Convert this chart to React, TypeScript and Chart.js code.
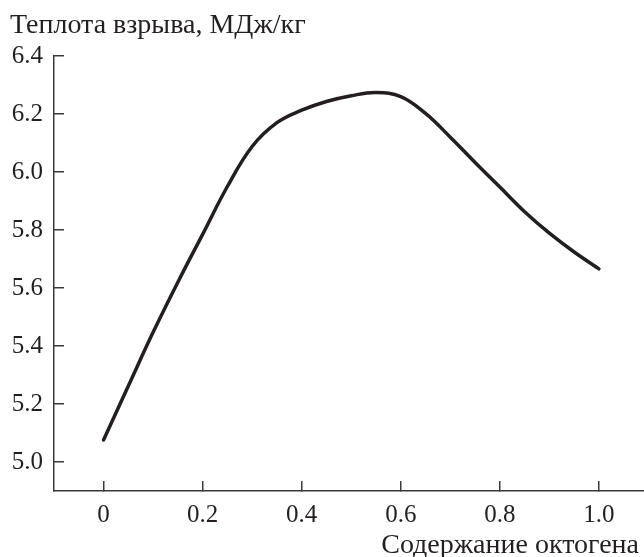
import React, { useEffect, useRef } from "react";
import { Chart, registerables } from "chart.js";

Chart.register(...registerables);

const xValues = [0, 0.05, 0.1, 0.15, 0.2, 0.25, 0.3, 0.35, 0.4, 0.45, 0.5, 0.55, 0.6, 0.65, 0.7, 0.75, 0.8, 0.85, 0.9, 0.95, 1.0];
const yValues = [5.076, 5.262, 5.447, 5.62, 5.785, 5.95, 6.088, 6.17, 6.213, 6.243, 6.263, 6.274, 6.26, 6.202, 6.12, 6.033, 5.948, 5.863, 5.789, 5.724, 5.666];
const xTicks = [0, 0.2, 0.4, 0.6, 0.8, 1.0];
const yTicks = [5.0, 5.2, 5.4, 5.6, 5.8, 6.0, 6.2, 6.4];
const yTitle = "Теплота взрыва, МДж/кг";
const xTitle = "Содержание октогена";

const FONT = "'Liberation Serif', 'DejaVu Serif', serif";
const INK = "#231f20";

export default function App() {
  const ref = useRef<HTMLCanvasElement | null>(null);
  useEffect(() => {
    if (!ref.current) return;
    const titles = {
      id: "titles",
      afterDraw(chart: any) {
        const ctx = chart.ctx;
        ctx.save();
        ctx.fillStyle = INK;
        ctx.font = `28px ${FONT}`;
        ctx.textBaseline = "alphabetic";
        ctx.textAlign = "left";
        ctx.fillText(yTitle, 10, 33);
        ctx.textAlign = "right";
        ctx.fillText(xTitle, 639, 553);
        ctx.restore();
      },
    };
    const chart = new Chart(ref.current, {
      type: "line",
      data: {
        datasets: [
          {
            data: xValues.map((x, i) => ({ x, y: yValues[i] })),
            borderColor: INK,
            borderWidth: 3.5,
            pointRadius: 0,
            tension: 0.4,
            fill: false,
            borderCapStyle: "round",
          },
        ],
      },
      options: {
        animation: false,
        responsive: false,
        maintainAspectRatio: false,
        layout: { padding: { top: 56, left: 0, right: 0, bottom: 0 } },
        plugins: { legend: { display: false }, tooltip: { enabled: false }, title: { display: false } },
        scales: {
          x: {
            type: "linear",
            min: -0.1,
            max: 1.091,
            afterBuildTicks: (s: any) => {
              s.ticks = xTicks.map((v) => ({ value: v }));
            },
            afterFit: (s: any) => {
              s.height = 66;
            },
            grid: { drawOnChartArea: false, drawTicks: true, tickLength: -10, color: "#3a3a3a", lineWidth: 1.5 },
            border: { display: true, color: "#3a3a3a", width: 1.5 },
            ticks: {
              padding: 19.5,
              color: INK,
              font: { family: FONT, size: 25 },
              maxRotation: 0,
              autoSkip: false,
              callback: (v: any) => (Number(v) === 0 ? "0" : Number(v).toFixed(1)),
            },
          },
          y: {
            type: "linear",
            min: 4.9,
            max: 6.4,
            afterBuildTicks: (s: any) => {
              s.ticks = yTicks.map((v) => ({ value: v }));
            },
            afterFit: (s: any) => {
              s.width = 54;
            },
            grid: { drawOnChartArea: false, drawTicks: true, tickLength: -10, color: "#3a3a3a", lineWidth: 1.5 },
            border: { display: true, color: "#3a3a3a", width: 1.5 },
            ticks: {
              padding: 21,
              color: INK,
              font: { family: FONT, size: 25 },
              autoSkip: false,
              callback: (v: any) => Number(v).toFixed(1),
            },
          },
        },
      },
      plugins: [titles],
    } as any);
    return () => chart.destroy();
  }, []);
  return (
    <div style={{ position: "fixed", left: 0, top: 0, width: 644, height: 557, background: "#fff" }}>
      <canvas ref={ref} width={644} height={557} style={{ width: 644, height: 557 }} />
    </div>
  );
}
